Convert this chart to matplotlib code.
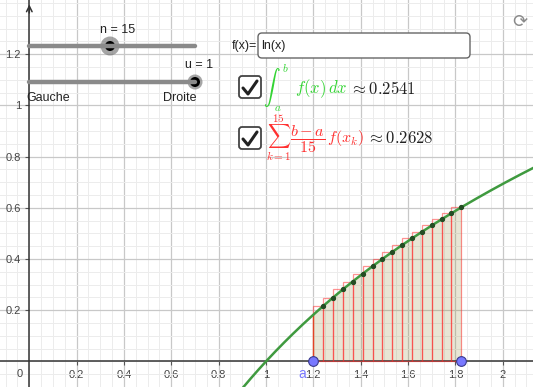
import matplotlib
matplotlib.use("Agg")
import matplotlib.pyplot as plt
import numpy as np
from matplotlib.patches import FancyBboxPatch, Circle

A = 1.2
B = 1.825
N = 15
# right-endpoint heights f(x_k), k = 1..15
heights = [0.216, 0.249, 0.281, 0.312, 0.342, 0.372, 0.400, 0.427,
           0.454, 0.480, 0.506, 0.531, 0.555, 0.578, 0.602]

x_ticks = [0.2, 0.4, 0.6, 0.8, 1, 1.2, 1.4, 1.6, 1.8, 2]
y_ticks = [0.2, 0.4, 0.6, 0.8, 1, 1.2]
integral_txt = "0.2541"
sum_txt = "0.2628"

W, H = 533, 387
plt.rcParams['font.family'] = ['Liberation Sans', 'DejaVu Sans']
plt.rcParams['mathtext.fontset'] = 'cm'

fig = plt.figure(figsize=(W / 100, H / 100), dpi=100)
ax = fig.add_axes([0, 0, 1, 1])
ax.set_xlim(-0.1238, 2.128)
ax.set_ylim(-0.0987, 1.4115)

# grid
ax.set_xticks(x_ticks)
ax.set_yticks(y_ticks)
ax.set_xticks(np.arange(-0.1, 2.15, 0.05), minor=True)
ax.set_yticks(np.arange(-0.1, 1.45, 0.05), minor=True)
ax.grid(which='major', color='#c8c8c8', lw=0.9, zorder=0)
ax.grid(which='minor', color='#ececec', lw=0.7, zorder=0)
ax.set_axisbelow(True)

for s in ['top', 'right']:
    ax.spines[s].set_visible(False)
ax.spines['left'].set_position(('data', 0))
ax.spines['bottom'].set_position(('data', 0))
for s in ['left', 'bottom']:
    ax.spines[s].set_color('#333333')
    ax.spines[s].set_linewidth(1.1)
ax.set_xticklabels([f"{t:g}" for t in x_ticks])
ax.set_yticklabels([f"{t:g}" for t in y_ticks])
ax.tick_params(which='major', direction='out', length=3, width=0.8,
               color='#555555', labelsize=8, labelcolor='#444444', pad=3)
ax.tick_params(which='minor', length=0)
ax.text(-0.04, -0.028, "0", fontsize=8, color='#444444', ha='center', va='top')
ax.annotate('', xy=(0, 1.405), xytext=(0, 1.35),
            arrowprops=dict(arrowstyle='->', color='#333333', lw=1.1))

# area under curve
xs = np.linspace(A, B, 200)
ax.fill_between(xs, 0, np.log(xs), color=(0.6, 0.56, 0.25, 0.22), zorder=2, lw=0)
ax.plot([A, A], [0, np.log(A)], color='#c8602a', lw=1, zorder=3)

# rectangles (right endpoints)
h = (B - A) / N
lefts = A + h * np.arange(N)
ax.bar(lefts, heights, width=h, align='edge', facecolor='none',
       edgecolor=(1, 0.15, 0.15, 0.5), lw=0.9, zorder=3)

# curve
xc = np.linspace(0.85, 2.2, 400)
ax.plot(xc, np.log(xc), color='#3f9a3f', lw=1.8, zorder=4)
ax.plot(lefts + h, heights, 'o', color='#244d24', ms=2.8, zorder=5)

# points a, b
ax.plot([A, B], [0, 0], 'o', ms=7, mfc='#7878ff', mec='#3a3a8a', mew=0.8,
        zorder=6, clip_on=False)
ax.text(A - 0.045, -0.05, "a", fontsize=10, color='#7878ff', ha='center', va='center')

# ---- UI overlay in pixel coords ----
ui = fig.add_axes([0, 0, 1, 1])
ui.set_xlim(0, W)
ui.set_ylim(H, 0)
ui.axis('off')
ui.patch.set_alpha(0)

# slider n
ui.plot([29, 195], [46, 46], color='#8a8a8a', lw=3.2, solid_capstyle='round')
ui.add_patch(Circle((110, 46), 9.5, color='#6a6a6a', alpha=0.6, lw=0))
ui.add_patch(Circle((110, 46), 5, color='black', lw=0))
ui.text(118, 30, "n = 15", fontsize=9, ha='center', va='center', color='#222222')

# slider u
ui.plot([29, 195], [82, 82], color='#8a8a8a', lw=3.2, solid_capstyle='round')
ui.add_patch(Circle((195, 82), 7.5, color='#6a6a6a', alpha=0.6, lw=0))
ui.add_patch(Circle((195, 82), 5, color='black', lw=0))
ui.text(199, 65, "u = 1", fontsize=9, ha='center', va='center', color='#222222')
ui.text(26, 98, "Gauche", fontsize=9, ha='left', va='center', color='#222222')
ui.text(197, 98, "Droite", fontsize=9, ha='right', va='center', color='#222222')

# input box
ui.add_patch(FancyBboxPatch((258, 33), 212, 25, boxstyle='round,pad=0,rounding_size=4',
                            fc='white', ec='#666666', lw=1))
ui.text(257, 46, "f(x)=", fontsize=9, ha='right', va='center', color='#222222')
ui.text(261, 46, "ln(x)", fontsize=9, ha='left', va='center', color='#222222')


def checkbox(y0):
    ui.add_patch(FancyBboxPatch((239, y0), 22, 22, boxstyle='round,pad=0,rounding_size=3',
                                fc='white', ec='#444444', lw=1.3))
    ui.plot([243, 248, 257], [y0 + 12, y0 + 18, y0 + 5], color='#222222', lw=2.2,
            solid_capstyle='round', solid_joinstyle='round')


checkbox(76)
checkbox(127)

renderer = fig.canvas.get_renderer()


def right_edge(t):
    return t.get_window_extent(renderer).x1


GREEN = '#33d433'
RED = '#ff3030'

# integral formula
ui.text(272, 88, r"$\int$", fontsize=12, color=GREEN, ha='center', va='center')
ui.text(285, 68, r"$b$", fontsize=8, color=GREEN, ha='center', va='center')
ui.text(278, 108, r"$a$", fontsize=8, color=GREEN, ha='center', va='center')
t_f = ui.text(295, 89, r"$f(x)\,dx$", fontsize=12, color=GREEN, ha='left', va='center')
ui.text(right_edge(t_f) + 3, 89, r"$\approx " + integral_txt + "$", fontsize=12,
        color='#222222', ha='left', va='center')

# sum formula
t_sum = ui.text(266, 138, r"$\sum_{k=1}^{15}\dfrac{b-a}{15}\,f(x_k)$", fontsize=11.5,
                color=RED, ha='left', va='center')
ui.text(right_edge(t_sum) + 3, 138, r"$\approx " + sum_txt + "$", fontsize=12,
        color='#222222', ha='left', va='center')

# reset icon
ui.text(520, 22, "\u27f3", fontsize=13, color='#8a8a8a', ha='center', va='center',
        family=['DejaVu Sans'])

fig.savefig("out.png", dpi=100)
